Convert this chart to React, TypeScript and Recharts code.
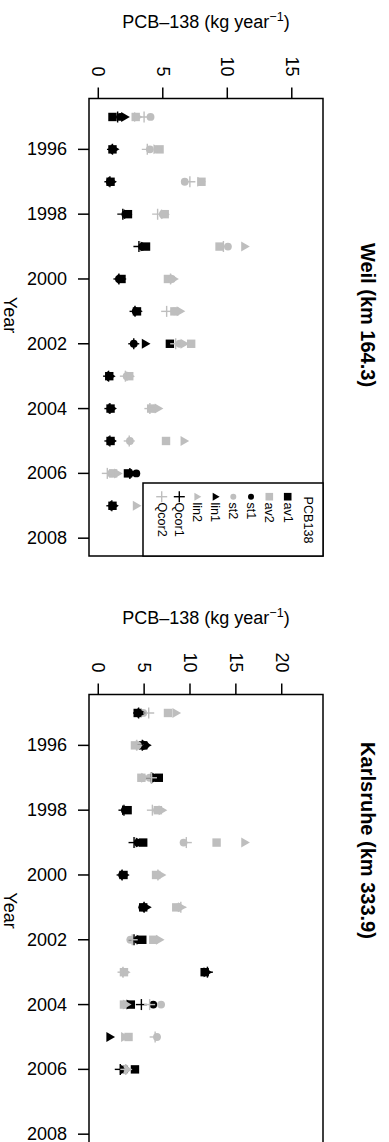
import React from 'react';
import { ScatterChart, Scatter, XAxis, YAxis, ReferenceArea } from 'recharts';

const FONT = "'Liberation Sans', Arial, Helvetica, sans-serif";
const BLACK = '#000000';
const GREY = '#BEBEBE';

// ---------------- data ----------------
const yearTicks = [1996, 1998, 2000, 2002, 2004, 2006, 2008];
const weilTicks = [0, 5, 10, 15];
const karlsruheTicks = [0, 5, 10, 15, 20];

const weilYears = [1995, 1996, 1997, 1998, 1999, 2000, 2001, 2002, 2003, 2004, 2005, 2006, 2007];
const weilAv1 = [1.1, 1.1, 0.95, 2.3, 3.7, 1.8, 3.0, 5.55, 0.85, 0.95, 0.95, 2.3, 1.1];
const weilAv2 = [2.9, 4.75, 8.0, 5.15, 9.4, 5.4, 5.9, 7.2, 2.4, 4.1, 5.25, 1.15, 4.6];
const weilSt1 = [1.7, 1.1, 0.9, 2.1, 3.4, 1.6, 2.9, 2.75, 0.85, 0.95, 0.95, 2.95, 1.1];
const weilSt2 = [4.05, 4.0, 6.7, 5.0, 10.05, 5.7, 5.9, 6.3, 2.2, 4.3, 2.45, 1.0, 4.3];
const weilLin1 = [2.0, 1.2, 1.0, 2.2, 3.5, 1.75, 3.0, 3.6, 0.9, 1.0, 1.0, 2.6, 1.15];
const weilLin2 = [3.0, 4.5, 7.9, 5.1, 11.3, 5.8, 6.3, 6.6, 2.4, 4.6, 6.6, 1.45, 2.9];
const weilQcor1 = [1.5, 1.1, 0.9, 1.9, 3.15, 1.6, 2.85, 2.75, 0.8, 0.9, 0.9, 2.45, 1.05];
const weilQcor2 = [3.55, 3.8, 7.1, 4.6, 9.7, 5.6, 5.3, 6.0, 2.1, 4.0, 2.4, 0.7, 4.0];

const karlsruheYears = [1995, 1996, 1997, 1998, 1999, 2000, 2001, 2002, 2003, 2004, 2005, 2006];
const karlsruheAv1 = [4.3, 4.9, 6.6, 3.2, 4.9, 2.75, 4.9, 4.8, 11.6, 3.55, null, 4.0];
const karlsruheAv2 = [7.6, 4.0, 4.7, 6.5, 12.9, 6.3, 8.5, 6.0, 2.8, 2.8, 3.3, 2.8];
const karlsruheSt1 = [4.5, 5.1, 6.0, 2.9, 4.3, 2.6, 4.8, 4.3, 11.7, 6.0, null, 2.9];
const karlsruheSt2 = [4.9, 4.3, 5.6, 6.4, 9.3, 6.5, 8.7, 3.5, 2.8, 6.85, 6.4, 2.9];
const karlsruheLin1 = [4.6, 5.2, 6.2, 2.9, 4.4, 2.8, 5.2, 4.5, 11.8, 3.4, 1.2, 2.7];
const karlsruheLin2 = [8.4, 4.4, 5.0, 6.9, 15.9, 6.8, 9.0, 6.6, 2.9, 3.0, 2.8, 3.1];
const karlsruheQcor1 = [4.4, 4.8, 5.8, 2.8, 3.9, 2.6, 5.0, 3.9, 11.9, 4.7, null, 2.4];
const karlsruheQcor2 = [5.5, 4.2, 5.8, 5.9, 9.6, 6.5, 9.0, 3.7, 2.7, 5.6, 6.2, 3.0];

const seriesNames = ['av1', 'av2', 'st1', 'st2', 'lin1', 'lin2', 'Qcor1', 'Qcor2'];

// ---------------- helpers ----------------
type Pt = { v: number; y: number };
const toPoints = (yrs: number[], vals: (number | null)[]): Pt[] =>
  yrs
    .map((y, i) => ({ y, v: vals[i] }))
    .filter((p) => p.v !== null && p.v !== undefined) as Pt[];

type Marker = 'square' | 'circle' | 'triangle' | 'plus';

const drawMarker = (kind: Marker, color: string, cx: number, cy: number, legend = false) => {
  if (cx == null || cy == null || isNaN(cx) || isNaN(cy)) return null;
  if (kind === 'square') {
    const s = legend ? 7.6 : 8.4;
    return <rect x={cx - s / 2} y={cy - s / 2} width={s} height={s} fill={color} />;
  }
  if (kind === 'circle') {
    const r = legend ? 3.0 : 3.9;
    return <circle cx={cx} cy={cy} r={r} fill={color} />;
  }
  if (kind === 'triangle') {
    const s = legend ? 8 : 10;
    const h = (s * Math.sqrt(3)) / 2;
    const pts = `${cx - h / 3},${cy - s / 2} ${cx - h / 3},${cy + s / 2} ${cx + (2 * h) / 3},${cy}`;
    return <polygon points={pts} fill={color} />;
  }
  const a = 5.5;
  return (
    <g stroke={color} strokeWidth={1.4}>
      <line x1={cx - a} y1={cy} x2={cx + a} y2={cy} />
      <line x1={cx} y1={cy - a} x2={cx} y2={cy + a} />
    </g>
  );
};

const seriesStyle: { marker: Marker; color: string }[] = [
  { marker: 'square', color: BLACK },
  { marker: 'square', color: GREY },
  { marker: 'circle', color: BLACK },
  { marker: 'circle', color: GREY },
  { marker: 'triangle', color: BLACK },
  { marker: 'triangle', color: GREY },
  { marker: 'plus', color: BLACK },
  { marker: 'plus', color: GREY },
];

const weilSeries = [weilAv1, weilAv2, weilSt1, weilSt2, weilLin1, weilLin2, weilQcor1, weilQcor2].map(
  (vals) => toPoints(weilYears, vals)
);
const karlsruheSeries = [
  karlsruheAv1,
  karlsruheAv2,
  karlsruheSt1,
  karlsruheSt2,
  karlsruheLin1,
  karlsruheLin2,
  karlsruheQcor1,
  karlsruheQcor2,
].map((vals) => toPoints(karlsruheYears, vals));

const Y_DOMAIN: [number, number] = [1994.43, 2008.55];

const XTick = (props: any) => {
  const { x, payload } = props;
  return (
    <text
      x={x}
      y={76.5}
      transform={`rotate(90 ${x} 76.5)`}
      textAnchor="end"
      dominantBaseline="central"
      fontSize={18}
      fontFamily={FONT}
      fill={BLACK}
    >
      {payload.value}
    </text>
  );
};

const YTick = (props: any) => {
  const { y, payload } = props;
  return (
    <text x={67} y={y} textAnchor="end" dominantBaseline="central" fontSize={18} fontFamily={FONT} fill={BLACK}>
      {payload.value}
    </text>
  );
};

function Panel({
  series,
  xDomain,
  xTicks,
  top,
}: {
  series: Pt[][];
  xDomain: [number, number];
  xTicks: number[];
  top: number;
}) {
  return (
    <div style={{ position: 'absolute', left: 0, top, width: 389, height: 571 }}>
      <ScatterChart width={389} height={571} margin={{ top: 68.5, right: 66, bottom: 15, left: 29 }}>
        <XAxis
          type="number"
          dataKey="v"
          orientation="top"
          domain={xDomain}
          ticks={xTicks}
          allowDataOverflow
          interval={0}
          height={30}
          axisLine={false}
          tickLine={{ stroke: BLACK, strokeWidth: 1.5 }}
          tickSize={11}
          tick={XTick}
        />
        <YAxis
          type="number"
          dataKey="y"
          domain={Y_DOMAIN}
          reversed
          ticks={yearTicks}
          allowDataOverflow
          interval={0}
          width={60}
          axisLine={false}
          tickLine={{ stroke: BLACK, strokeWidth: 1.5 }}
          tickSize={11}
          tick={YTick}
        />
        <ReferenceArea
          x1={xDomain[0]}
          x2={xDomain[1]}
          y1={Y_DOMAIN[0]}
          y2={Y_DOMAIN[1]}
          fill="none"
          fillOpacity={0}
          stroke={BLACK}
          strokeWidth={1.5}
          ifOverflow="visible"
        />
        {series.map((pts, i) => (
          <Scatter
            key={seriesNames[i]}
            name={seriesNames[i]}
            data={pts}
            isAnimationActive={false}
            shape={(p: any) => drawMarker(seriesStyle[i].marker, seriesStyle[i].color, p.cx, p.cy)}
          />
        ))}
      </ScatterChart>
    </div>
  );
}

const AxisTitle = ({ y }: { y: number }) => (
  <text x={206} y={y} textAnchor="middle" fontSize={18} fontFamily={FONT} fill={BLACK}>
    PCB–138 (kg year
    <tspan fontSize={12.6} dy={-7}>
      −1
    </tspan>
    <tspan dy={7}>)</tspan>
  </text>
);

const Rotated = ({
  x,
  y,
  children,
  size,
  bold,
  anchor = 'middle',
}: {
  x: number;
  y: number;
  children: React.ReactNode;
  size: number;
  bold?: boolean;
  anchor?: string;
}) => (
  <text
    x={x}
    y={y}
    transform={`rotate(90 ${x} ${y})`}
    textAnchor={anchor as any}
    dominantBaseline="central"
    fontSize={size}
    fontWeight={bold ? 'bold' : 'normal'}
    fontFamily={FONT}
    fill={BLACK}
  >
    {children}
  </text>
);

const legendCols = [287.7, 269.3, 251, 233.3, 215, 196.7, 179.3, 161.7];

export default function App() {
  return (
    <div
      style={{
        position: 'absolute',
        left: 0,
        top: 0,
        width: 389,
        height: 1142,
        overflow: 'hidden',
        background: '#fff',
      }}
    >
      <Panel series={weilSeries} xDomain={[-0.72, 17.42]} xTicks={weilTicks} top={0} />
      <Panel series={karlsruheSeries} xDomain={[-1.01, 24.5]} xTicks={karlsruheTicks} top={595.5} />
      <svg
        width={389}
        height={1142}
        style={{ position: 'absolute', left: 0, top: 0, pointerEvents: 'none' }}
      >
        <AxisTitle y={28.3} />
        <AxisTitle y={623.8} />
        <Rotated x={10} y={315} size={18}>
          Year
        </Rotated>
        <Rotated x={10} y={910.5} size={18}>
          Year
        </Rotated>
        <Rotated x={368} y={315} size={20} bold>
          Weil (km 164.3)
        </Rotated>
        <Rotated x={368} y={840.5} size={20} bold>
          Karlsruhe (km 333.9)
        </Rotated>
        {/* legend */}
        <rect x={143} y={483} width={180} height={73} fill="#fff" stroke={BLACK} strokeWidth={1.5} />
        <Rotated x={308.3} y={520} size={12.6}>
          PCB138
        </Rotated>
        {seriesNames.map((n, i) => (
          <g key={n}>
            {drawMarker(seriesStyle[i].marker, seriesStyle[i].color, legendCols[i], 496.7, true)}
            <Rotated x={legendCols[i]} y={502.5} size={12.6} anchor="start">
              {n}
            </Rotated>
          </g>
        ))}
      </svg>
    </div>
  );
}
